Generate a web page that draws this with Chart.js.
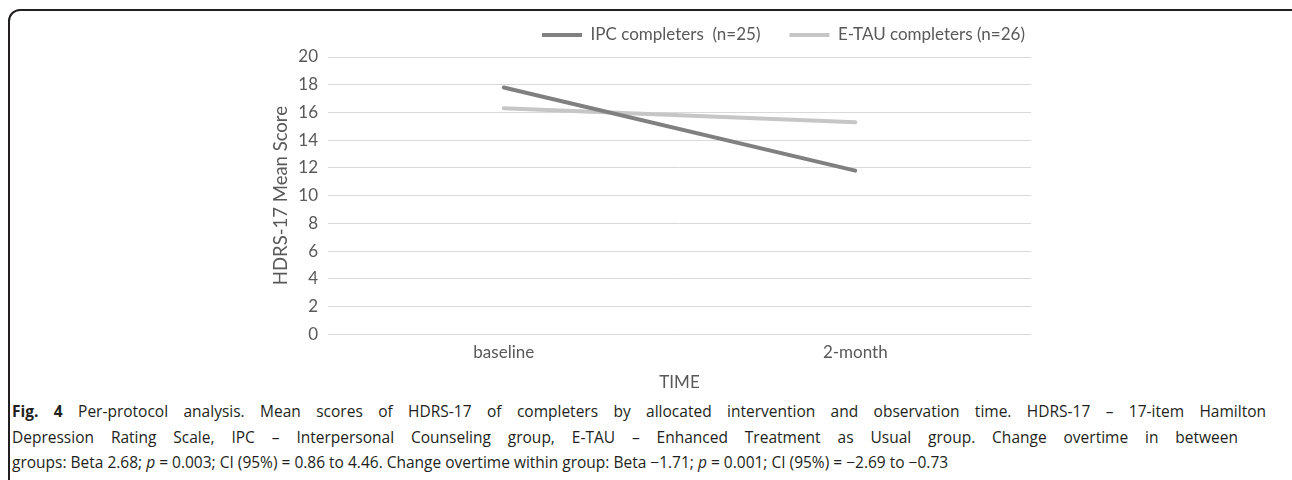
<!DOCTYPE html>
<html>
<head>
<meta charset="utf-8">
<script src="https://cdn.jsdelivr.net/npm/chart.js@4/dist/chart.umd.min.js"></script>
<style>
  html, body { margin: 0; padding: 0; background: #fff; overflow: hidden; }
  body { width: 1292px; height: 480px; position: relative; }
  .frame {
    position: absolute; left: 8px; top: 9px; width: 1300px; height: 600px;
    border: 2px solid #231f20; border-radius: 12px; box-sizing: border-box;
  }
  .plot { position: absolute; left: 0; top: 0; width: 1292px; height: 397px; }
  .caption {
    position: absolute; left: 12px; top: 399px; white-space: nowrap;
    font-family: "Open Sans", sans-serif; font-size: 15.5px;
    line-height: 25.5px; color: #231f20;
  }
  .caption span { display: block; }
  .caption b { font-weight: 700; }
</style>
</head>
<body>
<div class="frame"></div>
<div class="plot"><canvas id="chart"></canvas></div>
<div class="caption">
  <span data-end="1266"><b>Fig. 4</b> Per-protocol analysis. Mean scores of HDRS-17 of completers by allocated intervention and observation time. HDRS-17 – 17-item Hamilton</span>
  <span data-end="1238">Depression Rating Scale, IPC – Interpersonal Counseling group, E-TAU – Enhanced Treatment as Usual group. Change overtime in between</span>
  <span>groups: Beta 2.68; <i>p</i> = 0.003; CI (95%) = 0.86 to 4.46. Change overtime within group: Beta −1.71; <i>p</i> = 0.001; CI (95%) = −2.69 to −0.73</span>
</div>
<script>
// Observation times and HDRS-17 mean scores per group
const timePoints = ['baseline', '2-month'];
const ipcScores = [17.8, 11.8];
const etauScores = [16.3, 15.3];
const seriesNames = ['IPC completers  (n=25)', 'E-TAU completers (n=26)'];
const yTicks = [0, 2, 4, 6, 8, 10, 12, 14, 16, 18, 20];

const textColor = '#595959';
const fontFamily = 'Lato, sans-serif';

// justified caption lines: widen word gaps until each line reaches its right edge
document.querySelectorAll('.caption span[data-end]').forEach(line => {
  const range = document.createRange();
  range.selectNodeContents(line);
  const natural = range.getBoundingClientRect().right;
  const gaps = (line.textContent.match(/ /g) || []).length;
  if (gaps) line.style.wordSpacing = ((+line.dataset.end - natural) / gaps) + 'px';
});

// places the legend row right of centre, slightly above its layout slot
const legendShift = {
  id: 'legendShift',
  afterLayout(chart) {
    const lg = chart.legend;
    if (!lg) return;
    lg.left += 243; lg.right += 243;
    lg.top -= 3.5; lg.bottom -= 3.5;
  }
};

new Chart(document.getElementById('chart'), {
  type: 'line',
  data: {
    labels: timePoints,
    datasets: [
      {
        label: seriesNames[0], data: ipcScores,
        borderColor: '#808080', backgroundColor: '#808080',
        borderWidth: 4, borderCapStyle: 'round', pointRadius: 0, tension: 0
      },
      {
        label: seriesNames[1], data: etauScores,
        borderColor: '#c6c6c6', backgroundColor: '#c6c6c6',
        borderWidth: 4, borderCapStyle: 'round', pointRadius: 0, tension: 0
      }
    ]
  },
  options: {
    responsive: true,
    maintainAspectRatio: false,
    animation: false,
    layout: { padding: { left: 270, right: 261, top: 1, bottom: 0 } },
    plugins: {
      legend: {
        position: 'top',
        align: 'start',
        labels: {
          usePointStyle: true, pointStyle: 'line', pointStyleWidth: 40,
          boxHeight: 4, color: textColor, padding: 29,
          font: { family: fontFamily, size: 17 }
        }
      },
      tooltip: { enabled: false }
    },
    scales: {
      x: {
        offset: true,
        grid: { display: false, drawTicks: false },
        border: { display: false },
        ticks: { color: textColor, padding: 8, font: { family: fontFamily, size: 17 } },
        title: {
          display: true, text: 'TIME', color: textColor,
          padding: { top: 2, bottom: 4 }, font: { family: fontFamily, size: 17 }
        }
      },
      y: {
        min: 0, max: 20,
        afterBuildTicks(axis) { axis.ticks = yTicks.map(v => ({ value: v })); },
        afterFit(axis) { axis.width = 58; },
        grid: { color: '#d9d9d9', lineWidth: 1, drawTicks: false },
        border: { display: false },
        ticks: { color: textColor, padding: 10, font: { family: fontFamily, size: 17 } },
        title: {
          display: true, text: 'HDRS-17 Mean Score', color: textColor,
          padding: 0, font: { family: fontFamily, size: 18.5 }
        }
      }
    }
  },
  plugins: [legendShift]
});
</script>
</body>
</html>
